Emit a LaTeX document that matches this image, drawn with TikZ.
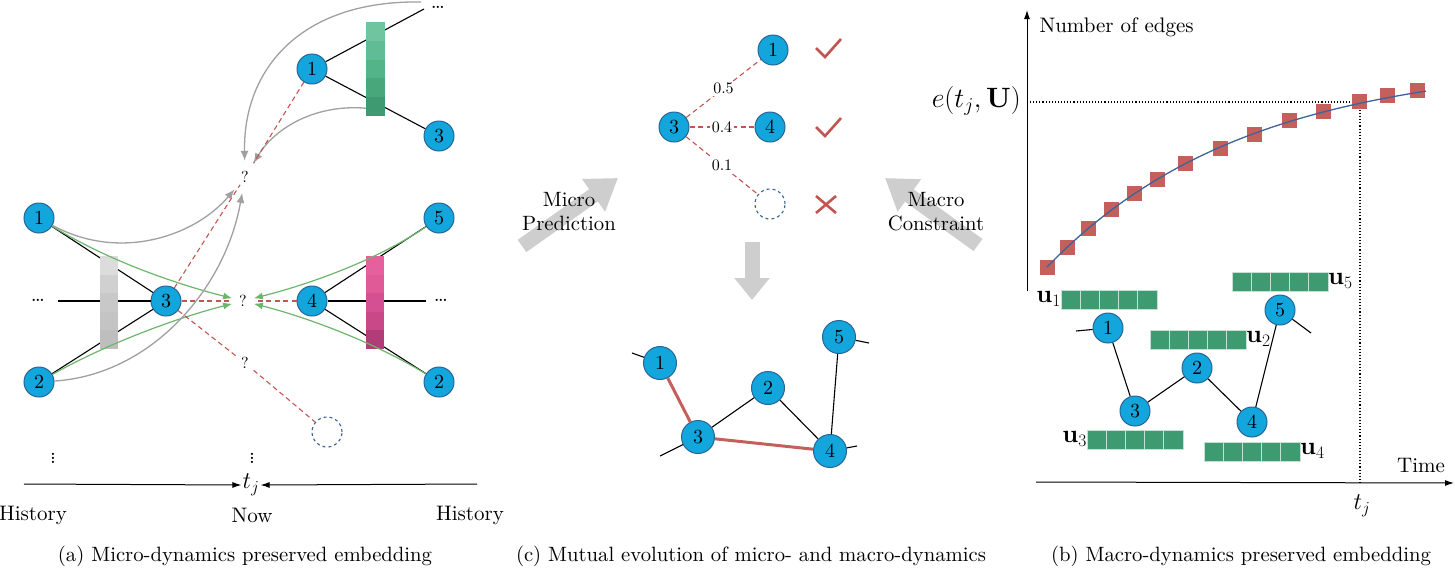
\RequirePackage{fix-cm}
\documentclass[tikz,border=0pt]{standalone}
\usepackage{fontspec}
\setmainfont{lmroman10-regular.otf}[BoldFont=lmroman10-bold.otf,ItalicFont=lmroman10-italic.otf,BoldItalicFont=lmroman10-bolditalic.otf]
\usetikzlibrary{arrows.meta}
\definecolor{nodeblue}{RGB}{18,166,221}
\definecolor{nodeedge}{RGB}{40,100,150}
\definecolor{dashred}{RGB}{196,84,80}
\definecolor{sqred}{RGB}{196,96,92}
\definecolor{lgreen}{RGB}{108,182,108}
\definecolor{arcgray}{RGB}{160,160,160}
\definecolor{blockgray}{RGB}{206,206,206}
\definecolor{curveblue}{RGB}{60,100,150}
\definecolor{circblue}{RGB}{60,100,150}
\definecolor{embgreen}{RGB}{62,154,112}
\definecolor{gA}{RGB}{112,196,160}
\definecolor{gB}{RGB}{96,188,148}
\definecolor{gC}{RGB}{82,180,136}
\definecolor{gD}{RGB}{72,168,124}
\definecolor{gE}{RGB}{62,154,112}
\definecolor{kA}{RGB}{220,220,220}
\definecolor{kB}{RGB}{208,208,208}
\definecolor{kC}{RGB}{200,200,200}
\definecolor{kD}{RGB}{196,196,196}
\definecolor{kE}{RGB}{190,190,190}
\definecolor{pA}{RGB}{230,96,158}
\definecolor{pB}{RGB}{224,90,152}
\definecolor{pC}{RGB}{212,80,146}
\definecolor{pD}{RGB}{200,72,136}
\definecolor{pE}{RGB}{176,60,120}
\newcommand\embbar[2]{\foreach \k in {0,...,4}{\filldraw[embcell] ({#1+19.2*\k},#2) rectangle ({#1+19.2*(\k+1)},{#2+19});}}
\newcommand\vbar[5]{\foreach \c [count=\i from 0] in {#5}{\fill[\c] (#1,{#2+(#4-#2)/5*\i}) rectangle (#3,{#2+(#4-#2)/5*(\i+1)});}}
\begin{document}
\begin{tikzpicture}[x=1pt,y=-1pt,font=\fontsize{21}{25}\selectfont,
  nd/.style={circle,fill=nodeblue,draw=nodeedge,line width=1pt,minimum size=30pt,inner sep=0pt,font=\fontsize{20}{20}\selectfont},
  ndb/.style={nd,minimum size=33pt},
  dcirc/.style={circle,draw=circblue,dashed,line width=1.1pt,minimum size=30pt,inner sep=0pt},
  qn/.style={circle,inner sep=0pt,font=\fontsize{16}{16}\selectfont},
  blk/.style={black,line width=1.1pt},
  rdash/.style={dashred,line width=1.1pt,dash pattern=on 5pt off 3.5pt},
  grn/.style={lgreen,line width=1.2pt,-{Latex[length=9pt,width=7pt]}},
  garc/.style={arcgray,line width=1.3pt,-{Latex[length=10pt,width=8pt]}},
  barn/.style={rectangle,inner sep=0pt,draw=none},
  embcell/.style={fill=embgreen,draw=white!70!embgreen,line width=0.8pt},
  lbl/.style={fill=white,text=black,inner sep=1.5pt,font=\fontsize{16}{16}\selectfont},
  mk/.style={dashred,line width=2.6pt},
  blockarr/.style={blockgray,line width=15pt},
  captxt/.style={font=\fontsize{20.7}{25}\selectfont},
  ulab/.style={inner sep=0pt,font=\fontsize{25}{25}\selectfont}
]
\useasboundingbox (0,0) rectangle (1455,571);
% ================= (a) =================
% top part
\node[nd] (a1t) at (312,69) {1};
\node[nd] (a3t) at (439,136) {3};
\node[inner sep=0pt] (tdots) at (438,7) {\dots};
\coordinate (tl) at (424,9);
\coordinate (tarc) at (421,2);
\node[barn,minimum width=19pt,minimum height=94pt] (gbar) at (375.5,69) {};
\node[qn,minimum size=32pt] (qt) at (245,177) {?};
\draw[blk] (a1t) -- (tl);
\draw[blk] (a1t) -- (a3t);
\vbar{366}{22}{385}{116}{gA,gB,gC,gD,gE}
\draw[garc] (tarc) .. controls (300,0) and (243,70) .. (qt);
\draw[garc] ([yshift=8pt]gbar.south west) .. controls (315,104) and (275,128) .. (qt);
\draw[rdash] (a1t) -- (qt);
% bottom part
\node[nd] (a1) at (39,218) {1};
\node[nd] (a2) at (39,382) {2};
\node[nd] (a3) at (166,301) {3};
\node[nd] (a4) at (312,301) {4};
\node[nd] (a5) at (439,218) {5};
\node[nd] (a2r) at (439,382) {2};
\node[qn,minimum size=22pt] (qm) at (243,301) {?};
\node[qn,minimum size=22pt] (ql) at (245,363) {?};
\node[dcirc] (dc) at (327,432) {};
\node[inner sep=0pt] (ldots) at (38,300) {\dots};
\node[inner sep=0pt] (rdots) at (441,300) {\dots};
\coordinate (ll) at (58,301);
\coordinate (rl) at (426,301);
\node[barn,minimum width=18pt,minimum height=93pt] (kbar) at (109,302.5) {};
\node[barn,minimum width=18pt,minimum height=93pt] (pbar) at (375,302.5) {};
\draw[blk] (a1) -- (a3);
\draw[blk] (a2) -- (a3);
\draw[blk] (ll) -- (a3);
\draw[blk] (a5) -- (a4);
\draw[blk] (a2r) -- (a4);
\draw[blk] (rl) -- (a4);
\vbar{100}{256}{118}{349}{kA,kB,kC,kD,kE}
\vbar{366}{256}{384}{349}{pA,pB,pC,pD,pE}
\draw[grn] (a1) .. controls (110,262) and (180,285) .. (qm);
\draw[grn] (a2) .. controls (110,342) and (180,317) .. (qm);
\draw[grn] (a5) .. controls (374,262) and (306,285) .. (qm);
\draw[grn] (a2r) .. controls (374,342) and (306,317) .. (qm);
\draw[rdash] (a3) -- (qm);
\draw[rdash] (a4) -- (qm);
\draw[rdash,shorten >=-7pt] (a3) -- (qt);
\draw[rdash] (a3) -- (ql);
\draw[rdash] (ql) -- (dc);
\draw[garc] (a1) .. controls (120,262) and (195,236) .. (qt);
\draw[garc] (a2) .. controls (150,375) and (225,290) .. (qt);
\node[inner sep=0pt] (vd1) at (53,455) {$\vdots$};
\node[inner sep=0pt] (vd2) at (252,455) {$\vdots$};
\node[inner sep=1pt,font=\fontsize{24}{24}\selectfont] (tj) at (251,485) {$t_j$};
\coordinate (axl) at (24,484);
\coordinate (axr) at (477,484);
\draw[line width=1pt,-{Latex[length=9pt,width=6pt]}] (axl) -- (tj.west);
\draw[line width=1pt,-{Latex[length=9pt,width=6pt]}] (axr) -- (tj.east);
\node (hl) at (33,515) {History};
\node (now) at (252,515) {Now};
\node (hr) at (470,515) {History};
\node[captxt] (capa) at (245,556) {(a) Micro-dynamics preserved embedding};
% ================= (c) =================
\node[nd] (c1) at (773,50) {1};
\node[nd] (c3) at (674,127) {3};
\node[nd] (c4) at (770,127) {4};
\node[dcirc] (cdc) at (770,204) {};
\draw[rdash] (c3) -- node[lbl] {0.5} (c1);
\draw[rdash] (c3) -- node[lbl] {0.4} (c4);
\draw[rdash] (c3) -- node[lbl] {0.1} (cdc);
\draw[mk] (816,48) -- (825,57) -- (841,39);
\draw[mk] (816,127) -- (825,136) -- (841,118);
\draw[mk] (816,196) -- (836,213);
\draw[mk] (836,196) -- (816,213);
\draw[blockarr,-{Triangle[length=30pt,width=38pt]}] (522,246) -- (618,178);
\draw[blockarr,-{Triangle[length=30pt,width=38pt]}] (978,245) -- (885,178);
\draw[blockarr,-{Triangle[length=22pt,width=34pt]}] (752,242) -- (752,300);
\node[align=center,font=\fontsize{20.7}{24}\selectfont] (micro) at (569,212) {Micro\\Prediction};
\node[align=center,font=\fontsize{20.7}{24}\selectfont] (macro) at (936,212) {Macro\\Constraint};
% bottom graph
\node[ndb] (n1) at (660,363) {1};
\node[ndb] (n3) at (698,437) {3};
\node[ndb] (n2) at (768,388) {2};
\node[ndb] (n4) at (830,451) {4};
\node[ndb] (n5) at (839,337) {5};
\coordinate (s1) at (632,353);
\coordinate (s3) at (660,456);
\coordinate (s5) at (869,343);
\coordinate (s4) at (857,446);
\draw[blk] (n1) -- (s1);
\draw[blk] (n3) -- (s3);
\draw[blk] (n5) -- (s5);
\draw[blk] (n4) -- (s4);
\draw[blk] (n3) -- (n2);
\draw[blk] (n2) -- (n4);
\draw[blk] (n4) -- (n5);
\draw[sqred,line width=3pt] (n1) -- (n3);
\draw[sqred,line width=3pt] (n3) -- (n4);
\node[captxt] (capc) at (751,556) {(c) Mutual evolution of micro- and macro-dynamics};
% ================= (b) =================
\coordinate (yo) at (1027,291);
\coordinate (yt) at (1027,10);
\draw[line width=1pt,-{Latex[length=9pt,width=6pt]}] (yo) -- (yt);
\coordinate (xo) at (1036,482);
\coordinate (xt) at (1454,483);
\draw[line width=1pt,-{Latex[length=9pt,width=6pt]}] (xo) -- (xt);
\node[anchor=west] (ylab) at (1036,27) {Number of edges};
\node[anchor=east,inner sep=2pt,font=\fontsize{28}{28}\selectfont] (elab) at (1023,101) {$e(t_j,\mathbf{U})$};
\coordinate (hd1) at (1030,102);
\coordinate (hd2) at (1360,102);
\coordinate (vd) at (1360,483);
\draw[line width=1.1pt,dotted] (hd1) -- (hd2) -- (vd);
\node (time) at (1421,465) {Time};
\node[font=\fontsize{24}{24}\selectfont] (tjb) at (1362,506) {$t_j$};
\foreach \px/\py in {1047/267,1067/247,1088/228,1111/209,1134/193,1157/179,1185/163,1220/148,1254/134,1289/120,1323/111,1359/101,1387/95,1417/90}
  \fill[sqred] (\px-7.5,\py-7.5) rectangle (\px+7.5,\py+7.5);
\draw[curveblue,line width=1.3pt] plot[domain=1047:1426,samples=80] (\x,{267-207*(1-exp(-(\x-1047)/200))});
\embbar{1061}{290}
\embbar{1232}{272}
\embbar{1150}{330}
\embbar{1087}{430}
\embbar{1204}{442}
\node[anchor=east,ulab] (u1) at (1061,299) {$\mathbf{u}_1$};
\node[anchor=west,ulab] (u5) at (1328,281) {$\mathbf{u}_5$};
\node[anchor=west,ulab] (u2) at (1246,339) {$\mathbf{u}_2$};
\node[anchor=east,ulab] (u3) at (1087,439) {$\mathbf{u}_3$};
\node[anchor=west,ulab] (u4) at (1300,451) {$\mathbf{u}_4$};
\node[nd] (b1) at (1108,328) {1};
\node[nd] (b5) at (1280,310) {5};
\node[nd] (b2) at (1197,368) {2};
\node[nd] (b3) at (1135,411) {3};
\node[nd] (b4) at (1252,422) {4};
\coordinate (bs1) at (1076,331);
\coordinate (bs5) at (1311,333);
\draw[blk] (b1) -- (bs1);
\draw[blk] (b5) -- (bs5);
\draw[blk] (b1) -- (b3);
\draw[blk] (b3) -- (b2);
\draw[blk] (b2) -- (b4);
\draw[blk] (b4) -- (b5);
\node[captxt] (capb) at (1241,556) {(b) Macro-dynamics preserved embedding};
\end{tikzpicture}
\end{document}
